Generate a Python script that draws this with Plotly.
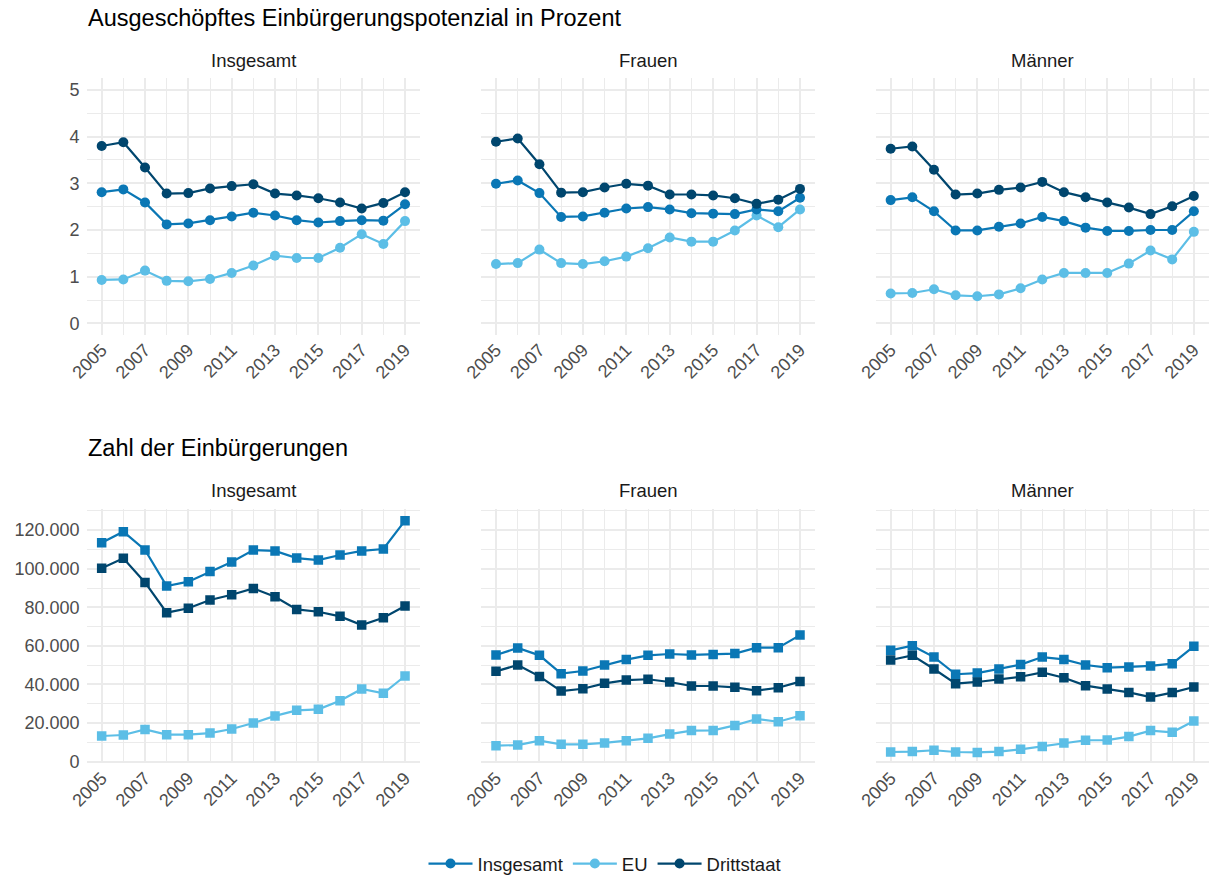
import plotly.graph_objects as go

years = list(range(2005, 2020))
series_names = ["Insgesamt", "EU", "Drittstaat"]
panel_names = ["Insgesamt", "Frauen", "Männer"]
colors = {"Insgesamt": "#0A77B5", "EU": "#5CBEE6", "Drittstaat": "#00466E"}

# Ausgeschöpftes Einbürgerungspotenzial in Prozent
pot_insgesamt_insgesamt = [2.81, 2.87, 2.59, 2.12, 2.14, 2.21, 2.29, 2.37, 2.31, 2.21, 2.16, 2.19, 2.21, 2.20, 2.55]
pot_insgesamt_eu = [0.93, 0.94, 1.13, 0.91, 0.90, 0.95, 1.08, 1.24, 1.45, 1.40, 1.40, 1.62, 1.91, 1.70, 2.19]
pot_insgesamt_dritt = [3.80, 3.88, 3.34, 2.78, 2.79, 2.89, 2.94, 2.98, 2.78, 2.74, 2.68, 2.59, 2.46, 2.58, 2.81]

pot_frauen_insgesamt = [2.99, 3.06, 2.79, 2.28, 2.29, 2.37, 2.46, 2.49, 2.44, 2.36, 2.35, 2.34, 2.44, 2.40, 2.69]
pot_frauen_eu = [1.27, 1.29, 1.58, 1.29, 1.27, 1.33, 1.43, 1.61, 1.84, 1.75, 1.75, 1.99, 2.31, 2.06, 2.44]
pot_frauen_dritt = [3.89, 3.96, 3.41, 2.80, 2.81, 2.91, 2.99, 2.95, 2.76, 2.76, 2.74, 2.68, 2.56, 2.65, 2.88]

pot_maenner_insgesamt = [2.64, 2.70, 2.40, 1.99, 1.99, 2.07, 2.14, 2.28, 2.19, 2.05, 1.98, 1.98, 2.00, 2.00, 2.40]
pot_maenner_eu = [0.64, 0.65, 0.73, 0.60, 0.58, 0.62, 0.75, 0.94, 1.08, 1.08, 1.08, 1.28, 1.56, 1.37, 1.96]
pot_maenner_dritt = [3.74, 3.79, 3.29, 2.76, 2.78, 2.86, 2.91, 3.03, 2.81, 2.70, 2.59, 2.48, 2.34, 2.51, 2.73]

# Zahl der Einbürgerungen
num_insgesamt_insgesamt = [113500, 119200, 109700, 91000, 93300, 98500, 103500, 109700, 109200, 105500, 104500, 107100, 109200, 110200, 124900]
num_insgesamt_eu = [13300, 13800, 16700, 14000, 14000, 14800, 16900, 20000, 23700, 26600, 27100, 31600, 37700, 35400, 44400]
num_insgesamt_dritt = [100200, 105400, 92900, 77200, 79500, 83800, 86500, 89800, 85500, 78900, 77700, 75300, 70800, 74600, 80700]

num_frauen_insgesamt = [55300, 58900, 55100, 45600, 47000, 50100, 52900, 55100, 55800, 55300, 55600, 56000, 59100, 59100, 65600]
num_frauen_eu = [8300, 8600, 10900, 9000, 9000, 9700, 10900, 12100, 14300, 16100, 16200, 18800, 22100, 20700, 23800]
num_frauen_dritt = [46800, 50100, 44200, 36600, 37800, 40600, 42300, 42700, 41300, 39200, 39200, 38500, 36800, 38300, 41500]

num_maenner_insgesamt = [57700, 60100, 54200, 45300, 45900, 48000, 50300, 54200, 53000, 50100, 48700, 49100, 49600, 50800, 59800]
num_maenner_eu = [5000, 5200, 5900, 5000, 4800, 5200, 6400, 7900, 9700, 11100, 11200, 13000, 16100, 15200, 21100]
num_maenner_dritt = [52700, 55100, 48000, 40400, 41300, 42800, 44000, 46300, 43500, 39400, 37700, 35900, 33500, 35800, 38700]

pot_ticks = [0, 1, 2, 3, 4, 5]
num_ticks = [0, 20000, 40000, 60000, 80000, 100000, 120000]
num_ticktext = ["0", "20.000", "40.000", "60.000", "80.000", "100.000", "120.000"]
x_ticks = [2005, 2007, 2009, 2011, 2013, 2015, 2017, 2019]

titles = ["Ausgeschöpftes Einbürgerungspotenzial in Prozent", "Zahl der Einbürgerungen"]

top_data = [
    [pot_insgesamt_insgesamt, pot_insgesamt_eu, pot_insgesamt_dritt],
    [pot_frauen_insgesamt, pot_frauen_eu, pot_frauen_dritt],
    [pot_maenner_insgesamt, pot_maenner_eu, pot_maenner_dritt],
]
bottom_data = [
    [num_insgesamt_insgesamt, num_insgesamt_eu, num_insgesamt_dritt],
    [num_frauen_insgesamt, num_frauen_eu, num_frauen_dritt],
    [num_maenner_insgesamt, num_maenner_eu, num_maenner_dritt],
]

W, H = 1210, 878
FONT = "Liberation Sans, Arial, sans-serif"
GRID = "#EBEBEB"

col_px = [(86.5, 420.2), (480.8, 815.2), (875.5, 1209.0)]
row_px = [(78.3, 335.0), (508.9, 763.2)]


def xdom(a, b):
    return [a / W, b / W]


def ydom(top, bottom):
    return [1 - bottom / H, 1 - top / H]


fig = go.Figure()
layout = {}

for r in range(2):
    data = top_data if r == 0 else bottom_data
    symbol = "circle" if r == 0 else "square"
    for c in range(3):
        k = r * 3 + c + 1
        xa = "x" if k == 1 else f"x{k}"
        ya = "y" if k == 1 else f"y{k}"
        # draw order: EU, Insgesamt, Drittstaat (dark on top)
        for s_idx in [1, 0, 2]:
            name = series_names[s_idx]
            fig.add_trace(go.Scatter(
                x=years, y=data[c][s_idx], name=name, mode="lines+markers",
                line=dict(color=colors[name], width=2.2),
                marker=dict(symbol=symbol, size=10 if r == 0 else 9.5, color=colors[name]),
                xaxis=xa, yaxis=ya, legendgroup=name,
                showlegend=(k == 1), legendrank=s_idx,
            ))
        layout[f"xaxis{'' if k == 1 else k}"] = dict(
            domain=xdom(*col_px[c]), anchor=ya, range=[2004.3, 2019.7],
            tickmode="array", tickvals=x_ticks, ticktext=[str(v) for v in x_ticks],
            tickangle=-45, showgrid=True, gridcolor=GRID, gridwidth=2,
            minor=dict(tickmode="linear", tick0=2005, dtick=1, showgrid=True, gridcolor=GRID, gridwidth=1.3),
            zeroline=False, showline=False, ticks="", automargin=False,
            tickfont=dict(family=FONT, size=18, color="#4D4D4D"),
            fixedrange=True,
        )
        if r == 0:
            yax = dict(range=[-0.25, 5.25], tickmode="array", tickvals=pot_ticks,
                       ticktext=[str(v) for v in pot_ticks],
                       minor=dict(tickmode="linear", tick0=0, dtick=0.5, showgrid=True, gridcolor=GRID, gridwidth=1.3))
        else:
            yax = dict(range=[-800, 131000], tickmode="array", tickvals=num_ticks, ticktext=num_ticktext,
                       minor=dict(tickmode="linear", tick0=0, dtick=10000, showgrid=True, gridcolor=GRID, gridwidth=1.3))
        yax.update(domain=ydom(*row_px[r]), anchor=xa, showgrid=True, gridcolor=GRID, gridwidth=2,
                   zeroline=False, showline=False, ticks="", showticklabels=(c == 0),
                   ticklabelstandoff=6, automargin=False,
                   tickfont=dict(family=FONT, size=18, color="#4D4D4D"), fixedrange=True)
        layout[f"yaxis{'' if k == 1 else k}"] = yax

annotations = []
title_y = [18, 448]
strip_y = [61, 490]
for r in range(2):
    annotations.append(dict(text=titles[r], x=86 / W, y=1 - title_y[r] / H, xref="paper", yref="paper",
                            xanchor="left", yanchor="middle", showarrow=False,
                            font=dict(family=FONT, size=23.5, color="#000000")))
    for c in range(3):
        cx = (col_px[c][0] + col_px[c][1]) / 2
        annotations.append(dict(text=panel_names[c], x=cx / W, y=1 - strip_y[r] / H, xref="paper", yref="paper",
                                xanchor="center", yanchor="middle", showarrow=False,
                                font=dict(family=FONT, size=18.5, color="#1A1A1A")))

fig.update_layout(
    **layout,
    width=W, height=H, margin=dict(l=0, r=0, t=0, b=0, autoexpand=False),
    paper_bgcolor="white", plot_bgcolor="white",
    annotations=annotations,
    font=dict(family=FONT, size=18, color="#1A1A1A"),
    legend=dict(orientation="h", x=0.5, xanchor="center", y=1 - 864 / H, yanchor="middle",
                font=dict(family=FONT, size=18.5, color="#1A1A1A"), itemwidth=44,
                traceorder="normal", bgcolor="rgba(0,0,0,0)"),
    showlegend=True,
)

fig.write_html("out.html", config={"displayModeBar": False},
               post_script="document.body.style.margin='0';document.body.style.overflow='hidden';")
